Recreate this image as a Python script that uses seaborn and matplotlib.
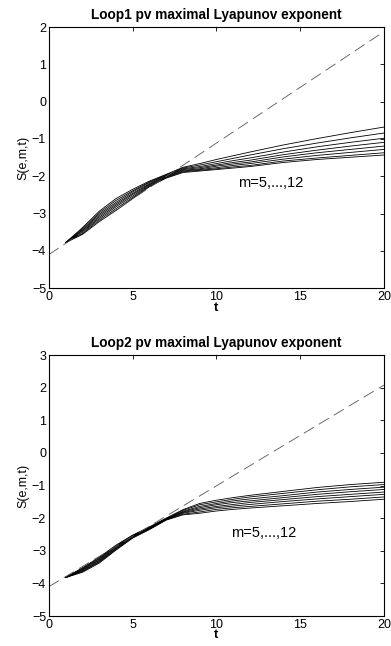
import pandas as pd
import matplotlib
matplotlib.use("Agg")
import matplotlib.pyplot as plt
import seaborn as sns

t_knots = [1, 2, 3, 4, 5, 6, 7, 8, 9, 10, 11, 12, 14, 16, 18, 20]
m_values = [5, 6, 7, 8, 9, 10, 11, 12]

# Loop1 curves, m=5 (top at t=20) ... m=12 (bottom)
loop1_m5 = [-3.78, -3.38, -2.94, -2.60, -2.35, -2.13, -1.95, -1.76, -1.66, -1.55, -1.45, -1.35, -1.16, -0.99, -0.83, -0.68]
loop1_m6 = [-3.78, -3.41, -2.98, -2.65, -2.39, -2.15, -1.96, -1.78, -1.70, -1.61, -1.52, -1.43, -1.26, -1.11, -0.97, -0.84]
loop1_m7 = [-3.78, -3.44, -3.02, -2.70, -2.42, -2.17, -1.98, -1.80, -1.74, -1.66, -1.58, -1.51, -1.35, -1.21, -1.09, -0.98]
loop1_m8 = [-3.78, -3.46, -3.06, -2.74, -2.46, -2.20, -1.99, -1.82, -1.77, -1.70, -1.63, -1.57, -1.42, -1.30, -1.19, -1.09]
loop1_m9 = [-3.78, -3.49, -3.10, -2.78, -2.49, -2.22, -2.01, -1.84, -1.80, -1.73, -1.67, -1.62, -1.48, -1.37, -1.28, -1.19]
loop1_m10 = [-3.78, -3.51, -3.14, -2.82, -2.53, -2.24, -2.02, -1.86, -1.82, -1.77, -1.71, -1.66, -1.54, -1.44, -1.36, -1.28]
loop1_m11 = [-3.78, -3.54, -3.18, -2.87, -2.57, -2.26, -2.04, -1.88, -1.84, -1.80, -1.75, -1.71, -1.59, -1.51, -1.44, -1.37]
loop1_m12 = [-3.78, -3.56, -3.22, -2.92, -2.60, -2.28, -2.05, -1.90, -1.86, -1.82, -1.78, -1.74, -1.63, -1.55, -1.49, -1.43]

# Loop2 curves
loop2_m5 = [-3.82, -3.52, -3.20, -2.83, -2.52, -2.27, -2.00, -1.74, -1.55, -1.45, -1.37, -1.30, -1.18, -1.06, -0.97, -0.90]
loop2_m6 = [-3.82, -3.54, -3.23, -2.85, -2.53, -2.28, -2.01, -1.76, -1.59, -1.50, -1.42, -1.35, -1.24, -1.13, -1.04, -0.97]
loop2_m7 = [-3.82, -3.56, -3.25, -2.87, -2.55, -2.29, -2.02, -1.79, -1.64, -1.55, -1.47, -1.41, -1.31, -1.20, -1.12, -1.05]
loop2_m8 = [-3.82, -3.58, -3.28, -2.89, -2.56, -2.30, -2.03, -1.81, -1.68, -1.59, -1.52, -1.47, -1.37, -1.27, -1.19, -1.12]
loop2_m9 = [-3.82, -3.60, -3.30, -2.92, -2.57, -2.32, -2.03, -1.83, -1.72, -1.64, -1.58, -1.52, -1.43, -1.34, -1.27, -1.20]
loop2_m10 = [-3.82, -3.62, -3.33, -2.94, -2.58, -2.33, -2.04, -1.85, -1.76, -1.68, -1.63, -1.58, -1.49, -1.41, -1.34, -1.27]
loop2_m11 = [-3.82, -3.64, -3.35, -2.96, -2.60, -2.34, -2.05, -1.88, -1.81, -1.73, -1.68, -1.64, -1.56, -1.48, -1.42, -1.35]
loop2_m12 = [-3.82, -3.66, -3.38, -2.98, -2.61, -2.35, -2.06, -1.90, -1.85, -1.78, -1.73, -1.69, -1.62, -1.55, -1.49, -1.42]

# straight-line fits (dashed)
fit_t = [0, 20]
fit1_s = [-4.1, 1.88]
fit2_s = [-4.1, 2.08]

loop1 = [loop1_m5, loop1_m6, loop1_m7, loop1_m8, loop1_m9, loop1_m10, loop1_m11, loop1_m12]
loop2 = [loop2_m5, loop2_m6, loop2_m7, loop2_m8, loop2_m9, loop2_m10, loop2_m11, loop2_m12]


def to_long(curves):
    rows = []
    for m, vals in zip(m_values, curves):
        for t, s in zip(t_knots, vals):
            rows.append({"t": t, "S": s, "m": m})
    return pd.DataFrame(rows)


sns.set_theme(style="white")
plt.rcParams["font.family"] = ["Liberation Sans", "DejaVu Sans"]
plt.rcParams.update({
    "xtick.direction": "in", "ytick.direction": "in",
    "xtick.top": True, "ytick.right": True,
    "xtick.major.size": 3, "ytick.major.size": 3,
    "xtick.major.width": 0.6, "ytick.major.width": 0.6,
    "axes.linewidth": 0.8, "axes.edgecolor": "black",
    "text.color": "black", "axes.labelcolor": "black",
    "xtick.color": "black", "ytick.color": "black",
})

fig = plt.figure(figsize=(3.91, 6.46), dpi=100)
ax1 = fig.add_axes([0.125, 0.554, 0.857, 0.404])
ax2 = fig.add_axes([0.125, 0.0464, 0.857, 0.404])

panels = [
    (ax1, loop1, fit1_s, "Loop1 pv maximal Lyapunov exponent", (-5, 2), (11.3, -2.17)),
    (ax2, loop2, fit2_s, "Loop2 pv maximal Lyapunov exponent", (-5, 3), (10.9, -2.47)),
]

for ax, curves, fit_s, title, ylim, txt in panels:
    df = to_long(curves)
    sns.lineplot(data=df, x="t", y="S", hue="m", units="m", estimator=None,
                 palette=["black"] * len(m_values), linewidth=0.6,
                 legend=False, ax=ax)
    fit_df = pd.DataFrame({"t": fit_t, "S": fit_s})
    sns.lineplot(data=fit_df, x="t", y="S", color="#555555", linewidth=0.6,
                 ax=ax).lines[-1].set_dashes((14, 7))
    ax.set_xlim(0, 20)
    ax.set_ylim(*ylim)
    ax.set_xticks([0, 5, 10, 15, 20])
    ax.set_yticks(range(ylim[0], ylim[1] + 1))
    ax.tick_params(labelsize=9, colors="black", pad=2)
    ax.set_title(title, fontsize=9.8, fontweight="bold", pad=6, color="black")
    ax.set_xlabel("t", fontsize=9.5, fontweight="bold", labelpad=-1)
    ax.set_ylabel("S(e,m,t)", fontsize=9, labelpad=2)
    ax.text(txt[0], txt[1], "m=5,...,12", fontsize=10.5, va="center", color="black")
    for sp in ax.spines.values():
        sp.set_visible(True)
        sp.set_color("black")

fig.savefig("out.png", dpi=100)
